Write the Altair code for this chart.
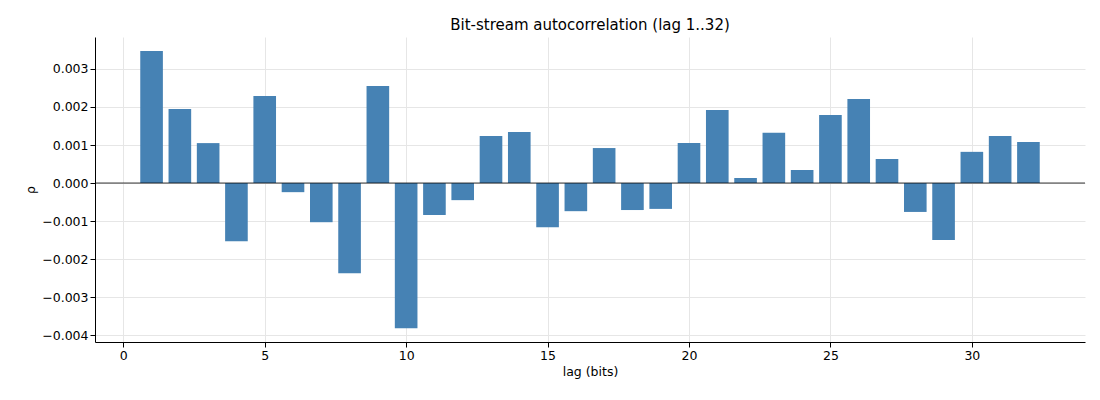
import altair as alt
import pandas as pd

lags = list(range(1, 33))
rho = [0.00347, 0.00195, 0.00105, -0.00153, 0.00229, -0.00024, -0.00103, -0.00237,
       0.00255, -0.00382, -0.00084, -0.00045, 0.00124, 0.00134, -0.00116, -0.00074,
       0.00092, -0.00071, -0.00068, 0.00105, 0.00192, 0.00013, 0.00132, 0.00034,
       0.00179, 0.00221, 0.00063, -0.00076, -0.00150, 0.00082, 0.00124, 0.00108]

df = pd.DataFrame({"lag": lags, "rho": rho})

base = alt.Chart(df)

bars = base.transform_calculate(
    x0="datum.lag - 0.4", x1="datum.lag + 0.4", zero="0"
).mark_bar(color="#4682b4").encode(
    x=alt.X("x0:Q", title="lag (bits)",
            scale=alt.Scale(domain=[-1, 34], nice=False, zero=False),
            axis=alt.Axis(values=[0, 5, 10, 15, 20, 25, 30], format="d")),
    x2="x1:Q",
    y=alt.Y("rho:Q", title="ρ",
            scale=alt.Scale(domain=[-0.00418, 0.00384], nice=False),
            axis=alt.Axis(values=[-0.004, -0.003, -0.002, -0.001, 0, 0.001, 0.002, 0.003],
                          format=".3f")),
    y2="zero:Q",
)

zero = alt.Chart(pd.DataFrame({"y": [0]})).mark_rule(color="black", strokeWidth=0.8).encode(
    y="y:Q"
)

chart = (bars + zero).properties(
    width=990, height=305,
    title="Bit-stream autocorrelation (lag 1..32)",
    autosize=alt.AutoSizeParams(type="none"),
    padding={"left": 87, "top": 29, "right": 7, "bottom": 50},
).configure_view(strokeWidth=0).configure_axis(
    gridColor="#e6e6e6", domainColor="black", tickColor="black",
    labelFont="DejaVu Sans", titleFont="DejaVu Sans", labelFontSize=12.5,
    titleFontSize=12.5, titleFontWeight="normal", labelColor="black", titleColor="black",
).configure_title(font="DejaVu Sans", fontSize=15, fontWeight="normal")

chart.save("out.html", embed_options={"renderer": "svg", "actions": False})
